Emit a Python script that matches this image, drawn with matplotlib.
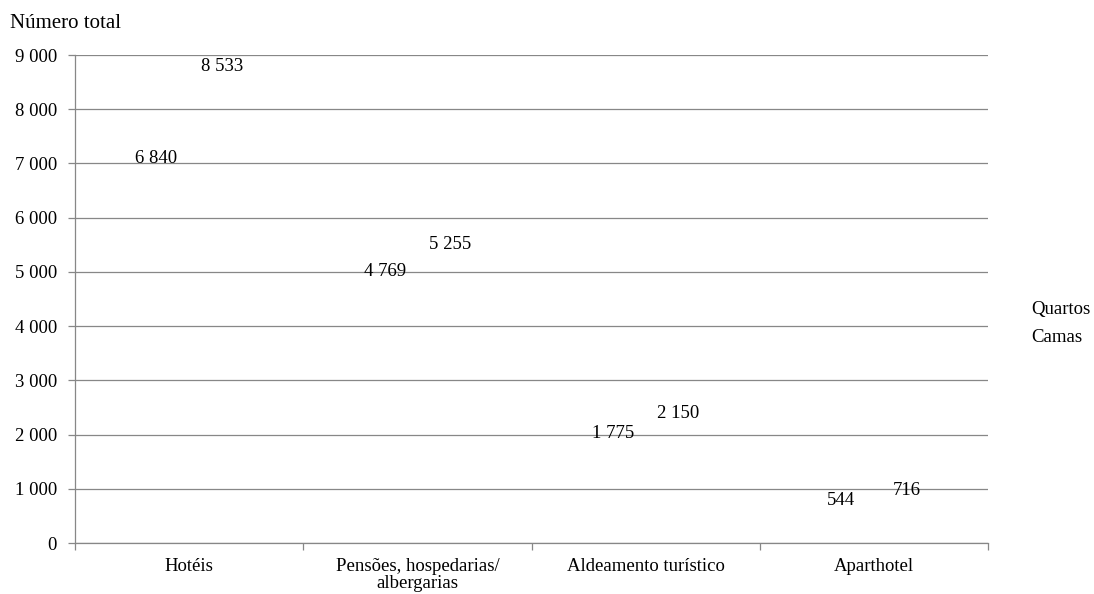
import matplotlib
matplotlib.use("Agg")
import matplotlib.pyplot as plt
import numpy as np
from matplotlib.patches import Patch

# Tourist accommodation capacity by establishment type
categories = ["Hotéis", "Pensões, hospedarias/\nalbergarias", "Aldeamento turístico", "Aparthotel"]
quartos = [6840, 4769, 1775, 544]
camas = [8533, 5255, 2150, 716]
series_names = ["Quartos", "Camas"]
yticks = [0, 1000, 2000, 3000, 4000, 5000, 6000, 7000, 8000, 9000]

plt.rcParams["font.family"] = ["Liberation Serif", "DejaVu Serif"]
FS = 13.5
GRID = "#878787"


def fmt(v):
    return f"{v:,.0f}".replace(",", " ")


fig = plt.figure(figsize=(10.94, 5.94), dpi=100)
ax = fig.add_axes([75 / 1094, 51 / 594, 913 / 1094, 488 / 594])

x = np.arange(len(categories))
w = 0.286
b1 = ax.bar(x - w / 2, quartos, w, facecolor="none", edgecolor="none")
b2 = ax.bar(x + w / 2, camas, w, facecolor="none", edgecolor="none")
for bars, vals in ((b1, quartos), (b2, camas)):
    ax.bar_label(bars, labels=[fmt(v) for v in vals], padding=3.5, fontsize=FS)

ax.set_xlim(-0.5, len(categories) - 0.5)
ax.set_ylim(0, 9000)
ax.set_yticks(yticks)
ax.set_yticklabels([fmt(v) for v in yticks], fontsize=FS)
ax.yaxis.grid(True, color=GRID, linewidth=0.9)
ax.set_axisbelow(True)

# category boundaries as major ticks, names centred as minor ticks
ax.set_xticks(np.arange(-0.5, len(categories), 1.0))
ax.set_xticklabels([])
ax.set_xticks(x, minor=True)
ax.set_xticklabels(categories, minor=True, fontsize=FS, linespacing=1.0)
ax.tick_params(axis="x", which="minor", length=0, pad=11)
ax.tick_params(axis="x", which="major", length=5, color=GRID, width=0.9)
ax.tick_params(axis="y", length=5, color=GRID, width=0.9, pad=8)

for s in ("top", "right"):
    ax.spines[s].set_visible(False)
for s in ("left", "bottom"):
    ax.spines[s].set_color(GRID)
    ax.spines[s].set_linewidth(0.9)

fig.text(10 / 1094, 1 - 23 / 594, "Número total", fontsize=15, ha="left", va="center")

handles = [Patch(facecolor="none", edgecolor="none") for _ in series_names]
fig.legend(handles, series_names, loc="upper left",
           bbox_to_anchor=(1024 / 1094, 1 - 293 / 594), frameon=False,
           fontsize=FS, handlelength=0, handletextpad=0, labelspacing=0.62,
           borderaxespad=0)

fig.savefig("out.png", dpi=100)
